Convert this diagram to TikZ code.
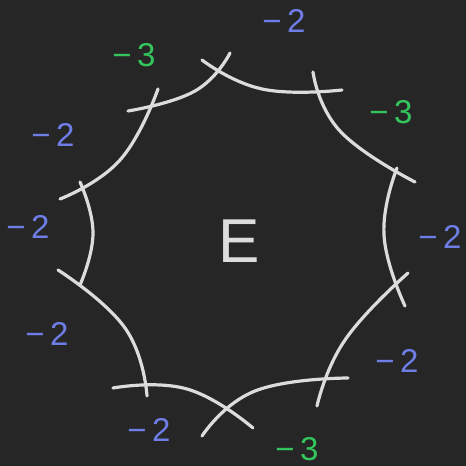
\documentclass[tikz,border=0pt]{standalone}
\usepackage{fontspec}
\setmainfont{Liberation Sans}
\usepackage{tikz}

\definecolor{board}{HTML}{262626}
\definecolor{chalk}{HTML}{DCDCDC}
\definecolor{minustwo}{HTML}{6E7EE6}
\definecolor{minusthree}{HTML}{34C65C}

\begin{document}
\begin{tikzpicture}[
    x=1pt, y=-1pt,
    curve/.style={draw=chalk, line width=3.2pt, line cap=round, line join=round},
    lbl/.style={font=\fontsize{33}{33}\selectfont, inner sep=0pt},
  ]
    \fill[board] (0,0) rectangle (466,466);
    \useasboundingbox (0,0) rectangle (466,466);

    % the ring of curves, going round clockwise from the top
    \draw[curve] plot[smooth, tension=0.8] coordinates {(202,60) (262,89) (342,90)};
    \draw[curve] plot[smooth, tension=0.8] coordinates {(313,72) (340,131) (415,182)};
    \draw[curve] plot[smooth, tension=0.8] coordinates {(397,168) (384,235) (405,306)};
    \draw[curve] plot[smooth, tension=0.8] coordinates {(317,406) (345,340) (408,273)};
    \draw[curve] plot[smooth, tension=0.8] coordinates {(202,436) (255,391) (348,378)};
    \draw[curve] plot[smooth, tension=0.8] coordinates {(113,388) (187,389) (253,428)};
    \draw[curve] plot[smooth, tension=0.8] coordinates {(58,270) (125,328) (147,396)};
    \draw[curve] plot[smooth, tension=0.8] coordinates {(80,182) (93,233) (80,285)};
    \draw[curve] plot[smooth, tension=0.8] coordinates {(158,89) (120,160) (60,199)};
    \draw[curve] plot[smooth, tension=0.8] coordinates {(128,111) (195,91) (230,53)};

    \node[font=\fontsize{62}{62}\selectfont, text=chalk, inner sep=0pt] (E) at (239,241) {E};

    \foreach \i/\x/\y/\lab/\col in {1/284/21/2/minustwo, 2/134/55/3/minusthree,
        3/391/112/3/minusthree, 4/53/135/2/minustwo, 5/28/227/2/minustwo,
        6/440/237/2/minustwo, 7/47/334/2/minustwo, 8/397/361/2/minustwo,
        9/149/430/2/minustwo, 10/297/449/3/minusthree}
      \node[lbl, text=\col] (w\i) at (\x,\y) {−\,\lab};
  \end{tikzpicture}
\end{document}
